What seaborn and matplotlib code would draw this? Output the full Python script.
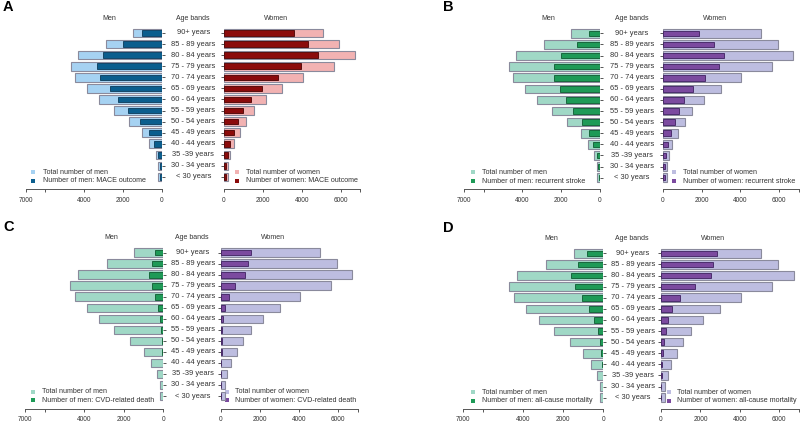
import matplotlib
matplotlib.use("Agg")
import matplotlib.pyplot as plt
import seaborn as sns
import pandas as pd

sns.set_theme(style="white")
plt.rcParams['font.family'] = ['Liberation Sans', 'DejaVu Sans']

# ---------------- data ----------------
ages = ['90+ years', '85 - 89 years', '80 - 84 years', '75 - 79 years', '70 - 74 years',
        '65 - 69 years', '60 - 64 years', '55 - 59 years', '50 - 54 years', '45 - 49 years',
        '40 - 44 years', '35 -39 years', '30 - 34 years', '< 30 years']

men_total = [1480, 2870, 4330, 4700, 4480, 3850, 3230, 2470, 1690, 1000, 620, 300, 160, 180]
women_total = [5070, 5930, 6730, 5640, 4040, 3000, 2140, 1530, 1140, 810, 490, 330, 200, 210]

men_mace = [1000, 2000, 3040, 3330, 3160, 2640, 2230, 1720, 1100, 650, 410, 170, 100, 70]
women_mace = [3610, 4310, 4820, 3970, 2790, 1970, 1370, 970, 700, 510, 310, 210, 120, 100]
men_stroke = [550, 1200, 2000, 2360, 2360, 2050, 1740, 1410, 930, 550, 340, 150, 100, 70]
women_stroke = [1880, 2640, 3140, 2880, 2160, 1570, 1120, 830, 620, 450, 260, 170, 140, 140]
men_cvd = [410, 580, 720, 560, 410, 290, 170, 120, 80, 50, 30, 20, 10, 10]
women_cvd = [1540, 1370, 1250, 720, 390, 210, 120, 70, 50, 30, 20, 10, 10, 10]
men_mort = [810, 1270, 1630, 1420, 1070, 710, 460, 290, 170, 100, 50, 30, 20, 20]
women_mort = [2830, 2660, 2540, 1710, 970, 540, 340, 240, 150, 100, 50, 30, 20, 20]

outcomes = ['MACE outcome', 'recurrent stroke', 'CVD-related death', 'all-cause mortality']
panel_letters = ['A', 'B', 'C', 'D']
men_events = [men_mace, men_stroke, men_cvd, men_mort]
women_events = [women_mace, women_stroke, women_cvd, women_mort]

x_ticks = [0, 2000, 4000, 6000, 7000]
men_tick_labels = ['0', '2000', '4000', '', '7000']
women_tick_labels = ['0', '2000', '4000', '6000', '']

# ---------------- styling / layout ----------------
W, H = 800, 423
fig = plt.figure(figsize=(8.0, 4.23), dpi=100)

col_blue = dict(ml='#a6d2f2', md='#0b5e8e', mde='#0a3a5a', wl='#f2b2b2', wd='#8b0b0b', wde='#4a0000')
col_gp = dict(ml='#a0d8c6', md='#1e9a57', mde='#0d5a30', wl='#bdbde0', wd='#7b4a9f', wde='#3e2060')
colors = [col_blue, col_gp, col_gp, col_gp]
edge_outer = '#8a8a9c'
txt_col = '#333333'
axis_col = '#555555'

# pixel layout: men_x0 (7000), men_x1 (0), wom_x0 (0), wom_x1 (7000), row_top, row_bot, axis_y
layouts = [
    dict(mx0=26, mx1=161.5, wx0=224, wx1=360.3, rt=33, rb=177, ay=189.3,
         letter=(3, 7), mleg=(33.3, 43.3), wleg=(236.7, 246)),
    dict(mx0=464.3, mx1=600, wx0=662.7, wx1=798.7, rt=33.3, rb=177.7, ay=189.5,
         letter=(443, 7), mleg=(473.3, 481.7), wleg=(674, 683.3)),
    dict(mx0=25, mx1=163.3, wx0=221, wx1=357.5, rt=252.7, rb=396, ay=408.7,
         letter=(3, 227), mleg=(33.3, 41.7), wleg=(226.7, 235)),
    dict(mx0=463.3, mx1=603.3, wx0=661, wx1=799, rt=253.3, rb=397.7, ay=409,
         letter=(443, 228), mleg=(473.3, 481.7), wleg=(669.3, 677.3)),
]

over = fig.add_axes([0, 0, 1, 1])
over.set_xlim(0, W)
over.set_ylim(H, 0)
over.axis('off')
over.patch.set_alpha(0)

fs_leg = 5.1
fs_head = 5.0
fs_age = 5.4
fs_tick = 4.7


def make_ax(x0, x1, L):
    s = (L['rb'] - L['rt']) / 13.0
    top_px = L['rt'] - 1.0 * s
    ax = fig.add_axes([x0 / W, 1 - L['ay'] / H, (x1 - x0) / W, (L['ay'] - top_px) / H])
    ybot = 13 + (L['ay'] - L['rb']) / s
    return ax, (ybot, -1)


for i in range(4):
    L = layouts[i]
    c = colors[i]
    df = pd.DataFrame({'age': ages, 'men_total': men_total, 'women_total': women_total,
                       'men_ev': men_events[i], 'women_ev': women_events[i]})

    # men
    axm, ylim = make_ax(L['mx0'], L['mx1'], L)
    sns.barplot(data=df, x='men_total', y='age', order=ages, orient='h', ax=axm,
                color=c['ml'], width=0.78, edgecolor=edge_outer, linewidth=0.8,
                errorbar=None, saturation=1)
    sns.barplot(data=df, x='men_ev', y='age', order=ages, orient='h', ax=axm,
                color=c['md'], width=0.5, edgecolor=c['mde'], linewidth=0.6,
                errorbar=None, saturation=1)
    axm.set_xlim(7000, 0)
    axm.set_ylim(*ylim)

    # women
    axw, ylim = make_ax(L['wx0'], L['wx1'], L)
    sns.barplot(data=df, x='women_total', y='age', order=ages, orient='h', ax=axw,
                color=c['wl'], width=0.78, edgecolor=edge_outer, linewidth=0.8,
                errorbar=None, saturation=1)
    sns.barplot(data=df, x='women_ev', y='age', order=ages, orient='h', ax=axw,
                color=c['wd'], width=0.5, edgecolor=c['wde'], linewidth=0.6,
                errorbar=None, saturation=1)
    axw.set_xlim(0, 7000)
    axw.set_ylim(*ylim)

    for ax, labels, side in [(axm, men_tick_labels, 'right'), (axw, women_tick_labels, 'left')]:
        ax.set_xlabel('')
        ax.set_ylabel('')
        ax.set_facecolor('none')
        for sp in ['top', 'left', 'right']:
            ax.spines[sp].set_visible(False)
        ax.spines['bottom'].set_visible(True)
        ax.spines['bottom'].set_color(axis_col)
        ax.spines['bottom'].set_linewidth(0.7)
        ax.set_xticks(x_ticks)
        ax.set_xticklabels(labels)
        ax.tick_params(axis='x', direction='out', length=2.2, width=0.7, color=axis_col,
                       labelsize=fs_tick, labelcolor=txt_col, pad=3.0, bottom=True)
        ax.yaxis.set_ticks_position(side)
        ax.set_yticks(range(len(ages)))
        ax.set_yticklabels([])
        ax.tick_params(axis='y', direction='out', length=2.4, width=0.7, color=axis_col,
                       left=(side == 'left'), right=(side == 'right'))
        ax.grid(False)

    # headers
    hy = L['rt'] - 15
    over.text(L['mx1'] - 52, hy, 'Men', ha='center', va='center', fontsize=fs_head, color=txt_col)
    over.text((L['mx1'] + L['wx0']) / 2, hy, 'Age bands', ha='center', va='center',
              fontsize=fs_head, color=txt_col)
    over.text(L['wx0'] + 52, hy, 'Women', ha='center', va='center', fontsize=fs_head,
              color=txt_col)

    # age labels in the gap
    s = (L['rb'] - L['rt']) / 13.0
    for k, a in enumerate(ages):
        over.text((L['mx1'] + L['wx0']) / 2 + 0.5, L['rt'] + k * s, a, ha='center', va='center',
                  fontsize=fs_age, color=txt_col)

    # panel letter
    over.text(L['letter'][0], L['letter'][1], panel_letters[i], ha='left', va='center',
              fontsize=10.5, fontweight='bold', color='black')

    # legends
    ly1, ly2 = L['ay'] - 17, L['ay'] - 8.3
    for (sx, tx), lc, dc, who in [(L['mleg'], c['ml'], c['md'], 'men'),
                                  (L['wleg'], c['wl'], c['wd'], 'women')]:
        over.scatter([sx], [ly1], marker='s', s=6, color=lc, linewidths=0)
        over.scatter([sx], [ly2], marker='s', s=6, color=dc, linewidths=0)
        over.text(tx, ly1, f'Total number of {who}', ha='left', va='center', fontsize=fs_leg,
                  color=txt_col)
        over.text(tx, ly2, f'Number of {who}: {outcomes[i]}', ha='left', va='center',
                  fontsize=fs_leg, color=txt_col)

fig.savefig('out.png', dpi=100)
